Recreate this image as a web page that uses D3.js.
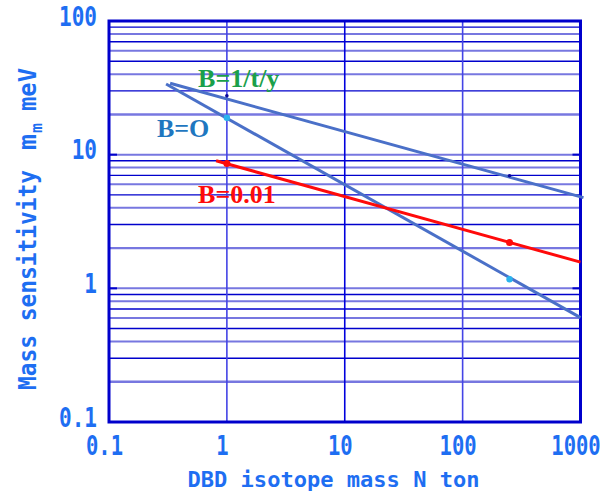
<!DOCTYPE html>
<html>
<head>
<meta charset="utf-8">
<script src="https://cdn.jsdelivr.net/npm/d3@7"></script>
<style>
  body { margin: 0; background: #fff; }
</style>
</head>
<body>
<div id="Chart"></div>
<script>

// DATA

const xTickValues = [0.1, 1, 10, 100, 1000];
const xTickLabels = ["0.1", "1", "10", "100", "1000"];
const yTickValues = [0.1, 1, 10, 100];
const yTickLabels = ["0.1", "1", "10", "100"];

const seriesNames = ["B=1/t/y", "B=O", "B=0.01"];
// line end points, N ton and m meV
const lineMass = [[0.33, 1060], [0.305, 1000], [0.81, 1000]];
const lineSens = [[34.2, 4.77], [33.8, 0.604], [9.0, 1.57]];
// marked points on each line
const dotMass = [1, 250];
const dotSens = [[27.6, 6.96], [18.9, 1.17], [8.6, 2.2]];

const CHART_WIDTH = 605;
const CHART_HEIGHT = 499;
const BLUE_TEXT = "#1e6ef2";
const FRAME = "#0000cc";

const x = d3.scaleLog().domain([0.1, 1000]).range([109, 580.5]);
const y = d3.scaleLog().domain([0.1, 100]).range([422, 21]);

const svg = d3.select("#Chart")
    .append("svg")
    .attr("width", CHART_WIDTH)
    .attr("height", CHART_HEIGHT);

// horizontal grid, every 1..9 of each decade
const lightDigits = [1, 2, 4, 6, 8];
const firstDigit = d => Math.round(d / Math.pow(10, Math.floor(Math.log10(d) + 1e-9)));

svg.append("g")
    .selectAll("line")
    .data(y.ticks().filter(d => d > 0.1 && d < 100))
    .join("line")
    .attr("x1", x(0.1))
    .attr("x2", x(1000))
    .attr("y1", d => y(d))
    .attr("y2", d => y(d))
    .attr("stroke", d => lightDigits.includes(firstDigit(d)) ? "#7777e0" : "#0000cc")
    .attr("stroke-width", d => {
        if (firstDigit(d) == 2) return 2.4;
        return lightDigits.includes(firstDigit(d)) ? 2 : 1.4;
    });

// vertical grid at decades
svg.append("g")
    .selectAll("line")
    .data(xTickValues.slice(1, -1))
    .join("line")
    .attr("x1", d => x(d))
    .attr("x2", d => x(d))
    .attr("y1", y(100))
    .attr("y2", y(0.1))
    .attr("stroke", (d, i) => i == 1 ? "#0000dd" : "#4444e6")
    .attr("stroke-width", 1.6);

// small inner ticks
const yTicks = svg.append("g");
yTicks.selectAll(".l")
    .data(yTickValues)
    .join("line")
    .attr("x1", x(0.1)).attr("x2", x(0.1) + 8)
    .attr("y1", d => y(d)).attr("y2", d => y(d))
    .attr("stroke", FRAME).attr("stroke-width", 2);
yTicks.selectAll(".r")
    .data(yTickValues)
    .join("line")
    .attr("x1", x(1000) - 8).attr("x2", x(1000))
    .attr("y1", d => y(d)).attr("y2", d => y(d))
    .attr("stroke", FRAME).attr("stroke-width", 2);

// frame
svg.append("rect")
    .attr("x", x(0.1))
    .attr("y", y(100))
    .attr("width", x(1000) - x(0.1))
    .attr("height", y(0.1) - y(100))
    .attr("fill", "none")
    .attr("stroke", FRAME)
    .attr("stroke-width", 3);

// lines
const lineColors = ["#4a70c8", "#4a70c8", "#ff0a0a"];
const line = d3.line().x(d => x(d[0])).y(d => y(d[1]));

svg.append("g")
    .selectAll("path")
    .data(seriesNames.map((name, i) => lineMass[i].map((m, j) => [m, lineSens[i][j]])))
    .join("path")
    .attr("d", line)
    .attr("fill", "none")
    .attr("stroke", (d, i) => lineColors[i])
    .attr("stroke-width", 3);

// marked points
const dotColors = ["#0a0a9a", "#2ab4ee", "#ff0a0a"];
const dotRadius = [1.8, 3.2, 3.5];
seriesNames.forEach((name, i) => {
    svg.append("g")
        .selectAll("circle")
        .data(dotMass.map((m, j) => [m, dotSens[i][j]]))
        .join("circle")
        .attr("cx", d => x(d[0]))
        .attr("cy", d => y(d[1]))
        .attr("r", dotRadius[i])
        .attr("fill", dotColors[i]);
});

// series labels
const labelColors = ["#1aa04a", "#1f77c0", "#ff0a0a"];
const labelPos = [[0.57, 32.1], [0.255, 13.5], [0.57, 4.34]];  // anchor in data units (N, m)
svg.append("g")
    .selectAll("text")
    .data(seriesNames)
    .join("text")
    .attr("x", (d, i) => x(labelPos[i][0]))
    .attr("y", (d, i) => y(labelPos[i][1]))
    .attr("fill", (d, i) => labelColors[i])
    .style("font", "bold 26px 'Liberation Serif', 'Times New Roman', serif")
    .text(d => d);

// tick labels: narrow gothic look, squeezed horizontally
const tickFont = "bold 26px 'DejaVu Sans Mono', monospace";
const squeeze = 0.79;
svg.append("g")
    .selectAll("text")
    .data(xTickValues)
    .join("text")
    .attr("transform", d => `translate(${x(d) - 4.5},455) scale(${squeeze},1)`)
    .attr("text-anchor", "middle")
    .attr("fill", BLUE_TEXT)
    .style("font", tickFont)
    .text((d, i) => xTickLabels[i]);

svg.append("g")
    .selectAll("text")
    .data(yTickValues)
    .join("text")
    .attr("transform", d => `translate(97,${y(d) + 4.7}) scale(0.81,1)`)
    .attr("text-anchor", "end")
    .attr("fill", BLUE_TEXT)
    .style("font", tickFont)
    .text((d, i) => yTickLabels[i]);

// axis titles
svg.append("text")
    .attr("x", 187.5)
    .attr("y", 487)
    .attr("fill", BLUE_TEXT)
    .attr("textLength", 292)
    .attr("lengthAdjust", "spacingAndGlyphs")
    .style("font", "bold 21px 'DejaVu Sans Mono', monospace")
    .text("DBD isotope mass N ton");

// vertical title, pieces placed along the rotated baseline
const yTitle = svg.append("g")
    .attr("transform", "translate(36,390) rotate(-90)")
    .attr("fill", BLUE_TEXT)
    .style("font", "bold 24px 'DejaVu Sans Mono', monospace");
const yTitleParts = [
    { text: "Mass sensitivity", at: 0, len: 220, dy: 0, size: 24 },
    { text: "m", at: 240, len: 16, dy: 0, size: 24 },
    { text: "m", at: 257, len: 10, dy: 6, size: 15 },
    { text: "meV", at: 279, len: 43, dy: 0, size: 24 }
];
yTitle.selectAll("text")
    .data(yTitleParts)
    .join("text")
    .attr("x", d => d.at)
    .attr("y", d => d.dy)
    .attr("textLength", d => d.len)
    .attr("lengthAdjust", "spacingAndGlyphs")
    .style("font-size", d => d.size + "px")
    .text(d => d.text);

</script>
</body>
</html>
